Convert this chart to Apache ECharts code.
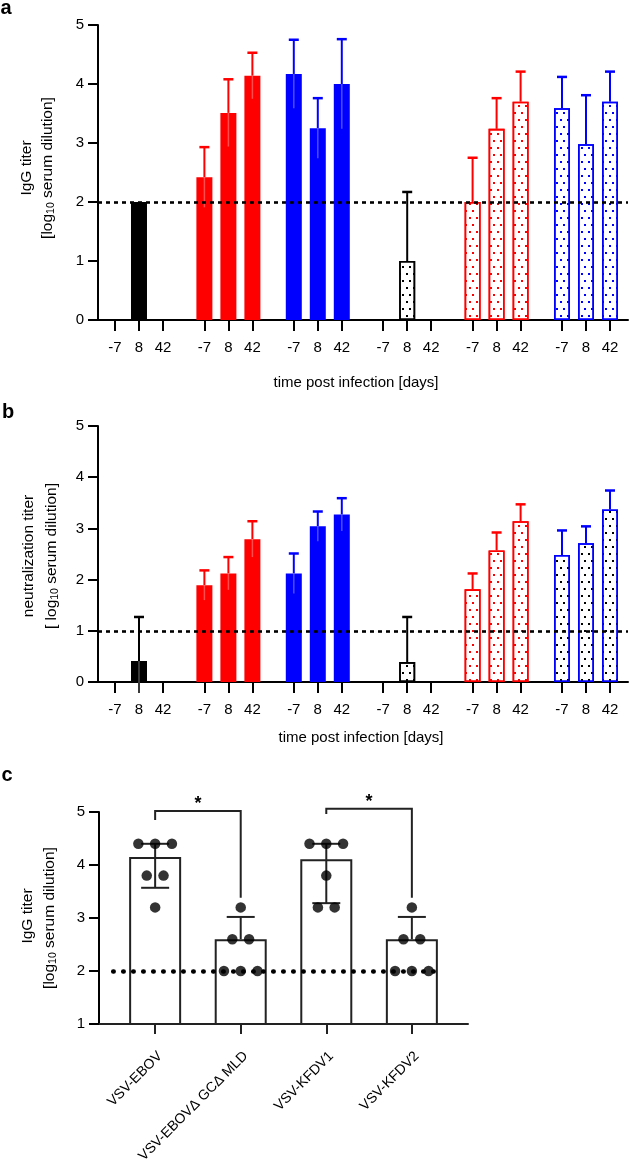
<!DOCTYPE html>
<html>
<head>
<meta charset="utf-8">
<script src="https://cdn.jsdelivr.net/npm/echarts@6/dist/echarts.min.js"></script>
<style>
  html, body { margin: 0; padding: 0; background: #fff; }
  #chart { width: 630px; height: 1163px; }
</style>
</head>
<body>
<div id="chart"></div>
<script>
// ---- data ----
const dayLabels = ['-7', '8', '42'];

// panel a: IgG titer, mean and SD for each group at day -7, 8, 42
const iggMean = [[null, 2.0, null], [2.42, 3.51, 4.14], [4.17, 3.25, 4.0], [null, 1.0, null], [2.0, 3.24, 3.7], [3.59, 2.98, 3.7]];
const iggSD = [[null, 0, null], [0.51, 0.57, 0.39], [0.58, 0.51, 0.76], [null, 1.17, null], [0.75, 0.52, 0.51], [0.53, 0.83, 0.51]];
const iggCutoff = 2;

// panel b: neutralization titer
const neutMean = [[null, 0.41, null], [1.89, 2.12, 2.79], [2.12, 3.04, 3.27], [null, 0.39, null], [1.81, 2.57, 3.14], [2.48, 2.71, 3.37]];
const neutSD = [[null, 0.86, null], [0.29, 0.32, 0.35], [0.39, 0.29, 0.32], [null, 0.88, null], [0.31, 0.35, 0.33], [0.48, 0.33, 0.37]];
const neutCutoff = 1;

// panel c: IgG titer per vaccine
const vaccines = ['VSV-EBOV', 'VSV-EBOV\u0394 GC\u0394 MLD', 'VSV-KFDV1', 'VSV-KFDV2'];
const vaccineMean = [4.15, 2.6, 4.11, 2.6];
const vaccineErrLow = [3.57, null, 3.28, null];
const vaccineErrHigh = [4.4, 3.02, 4.4, 3.02];
const vaccineDots = [
  [4.4, 4.4, 4.4, 3.8, 3.8, 3.2],
  [3.2, 2.6, 2.6, 2.0, 2.0, 2.0],
  [4.4, 4.4, 4.4, 3.8, 3.2, 3.2],
  [3.2, 2.6, 2.6, 2.0, 2.0, 2.0]
];
const vaccineCutoff = 2;
const brackets = [[0, 1], [2, 3]];
const bracketTop = [5.02, 5.06];
const bracketLeftEnd = [4.85, 4.96];
const bracketRightEnd = [3.38, 3.38];

// ---- styles ----
const FONT = '"Liberation Sans", Arial, Helvetica, sans-serif';
const RED = '#ff0000';
const BLUE = '#0000ff';
const groupColor = ['#000', RED, BLUE, '#000', RED, BLUE];
const groupDotted = [false, false, false, true, true, true];
const dotColorA = ['#000', RED, BLUE, '#000', RED, BLUE];
const dotColorB = ['#000', RED, BLUE, '#000', RED, '#000'];

const GROUP_STEP = 3.725;
const xPos = [];
for (let g = 0; g < 6; g++) for (let i = 0; i < 3; i++) xPos.push(g * GROUP_STEP + i);

function dayFormatter(v) {
  const k = xPos.findIndex(p => Math.abs(p - v) < 1e-6);
  return k < 0 ? '' : dayLabels[k % 3];
}

function dotDecal(color) {
  return {
    symbol: 'rect',
    symbolSize: 1,
    dashArrayX: [[1.4, 4.6], [0, 3, 1.4, 1.6]],
    dashArrayY: [1.4, 4.6],
    color: color
  };
}

function yAxis(grid, min) {
  return {
    type: 'value', gridIndex: grid, min: min, max: 5, interval: 1,
    axisLine: { show: true, onZero: false, lineStyle: { color: '#000', width: 2 } },
    axisTick: { show: true, length: 10, lineStyle: { color: '#000', width: 2 } },
    axisLabel: { color: '#000', fontSize: 15, fontFamily: FONT, margin: 14 },
    splitLine: { show: false }
  };
}

function dayAxis(grid) {
  return {
    type: 'value', gridIndex: grid, min: -0.708, max: 21.375,
    axisLine: { show: true, onZero: false, lineStyle: { color: '#000', width: 2 } },
    axisTick: { show: true, customValues: xPos, length: 11, lineStyle: { color: '#000', width: 2 } },
    axisLabel: { customValues: xPos, formatter: dayFormatter, color: '#000', fontSize: 15, fontFamily: FONT, margin: 20 },
    splitLine: { show: false }
  };
}

function errorRender(color, inner) {
  return function (params, api) {
    const x = api.value(0), m = api.value(1), s = api.value(2);
    if (!s) return;
    const base = api.coord([x, m]);
    const top = api.coord([x, m + s]);
    const low = api.coord([x, m - s]);
    const children = [
      { type: 'line', shape: { x1: base[0], y1: base[1], x2: top[0], y2: top[1] }, style: { stroke: color, lineWidth: 2 } },
      { type: 'line', shape: { x1: top[0] - 5, y1: top[1], x2: top[0] + 5, y2: top[1] }, style: { stroke: color, lineWidth: 2.5 } }
    ];
    if (inner) {
      children.push({ type: 'line', shape: { x1: base[0], y1: base[1], x2: low[0], y2: low[1] }, style: { stroke: 'rgba(255,255,255,0.3)', lineWidth: 1.5 } });
    }
    return { type: 'group', children: children };
  };
}

function timePanelSeries(axis, means, sds, dotColors, cutoff) {
  const series = [];
  for (let g = 0; g < 6; g++) {
    const bars = [], errs = [];
    for (let i = 0; i < 3; i++) {
      if (means[g][i] == null) continue;
      const x = g * GROUP_STEP + i;
      bars.push([x, means[g][i]]);
      errs.push([x, means[g][i], sds[g][i]]);
    }
    const itemStyle = groupDotted[g]
      ? { color: '#fff', borderColor: groupColor[g], borderWidth: 1.6, decal: dotDecal(dotColors[g]) }
      : { color: groupColor[g] };
    series.push({
      type: 'bar', xAxisIndex: axis, yAxisIndex: axis, barWidth: 16, barGap: '-100%',
      data: bars, itemStyle: itemStyle, z: 2
    });
    series.push({
      type: 'custom', xAxisIndex: axis, yAxisIndex: axis, data: errs, z: 3,
      renderItem: errorRender(groupColor[g], !groupDotted[g])
    });
  }
  series.push({
    type: 'line', xAxisIndex: axis, yAxisIndex: axis, data: [], z: 5,
    markLine: {
      silent: true, symbol: 'none', label: { show: false },
      lineStyle: { color: '#000', width: 2.6, type: [4, 4] },
      data: [{ yAxis: cutoff }]
    }
  });
  return series;
}

// panel c pieces
const C_MIN = -0.656, C_MAX = 3.656, DOT_STEP = 0.196;
const dotData = [];
vaccineDots.forEach((vals, i) => {
  const rows = {};
  vals.forEach(v => { (rows[v] = rows[v] || []).push(v); });
  Object.keys(rows).forEach(key => {
    const n = rows[key].length;
    rows[key].forEach((v, k) => dotData.push([i + (k - (n - 1) / 2) * DOT_STEP, v]));
  });
});

const seriesC = [
  {
    type: 'bar', xAxisIndex: 2, yAxisIndex: 2, barWidth: 52,
    data: vaccineMean.map((v, i) => [i, v]),
    itemStyle: { color: '#fff', borderColor: '#222', borderWidth: 2 }, z: 2
  },
  {
    type: 'line', xAxisIndex: 2, yAxisIndex: 2, data: [], z: 3,
    markLine: {
      silent: true, symbol: 'none', label: { show: false },
      lineStyle: { color: '#000', width: 4.5, type: [0.5, 9.5], cap: 'round' },
      data: [[{ coord: [-0.49, vaccineCutoff] }, { coord: [3.26, vaccineCutoff] }]]
    }
  },
  {
    type: 'custom', xAxisIndex: 2, yAxisIndex: 2, z: 4,
    data: vaccineMean.map((m, i) => [i, m, vaccineErrLow[i] == null ? NaN : vaccineErrLow[i], vaccineErrHigh[i]]),
    renderItem: function (params, api) {
      const x = api.value(0), m = api.value(1), lo = api.value(2), hi = api.value(3);
      const st = { stroke: '#222', lineWidth: 2 };
      const base = api.coord([x, m]);
      const children = [];
      [lo, hi].forEach(e => {
        if (isNaN(e)) return;
        const p = api.coord([x, e]);
        children.push({ type: 'line', shape: { x1: base[0], y1: base[1], x2: p[0], y2: p[1] }, style: st });
        children.push({ type: 'line', shape: { x1: p[0] - 14, y1: p[1], x2: p[0] + 14, y2: p[1] }, style: st });
      });
      return { type: 'group', children: children };
    }
  },
  {
    type: 'scatter', xAxisIndex: 2, yAxisIndex: 2, z: 5,
    symbol: 'circle', symbolSize: 10.5, itemStyle: { color: '#000' },
    data: dotData
  },
  {
    type: 'custom', xAxisIndex: 2, yAxisIndex: 2, z: 5, clip: false,
    data: brackets.map((b, k) => [b[0], b[1], bracketTop[k], bracketLeftEnd[k], bracketRightEnd[k]]),
    renderItem: function (params, api) {
      const a = api.coord([api.value(0), api.value(3)]);
      const t1 = api.coord([api.value(0), api.value(2)]);
      const t2 = api.coord([api.value(1), api.value(2)]);
      const b = api.coord([api.value(1), api.value(4)]);
      return {
        type: 'group', children: [
          { type: 'polyline', shape: { points: [a, t1, t2, b] }, style: { stroke: '#222', lineWidth: 2, fill: null } },
          { type: 'text', x: (t1[0] + t2[0]) / 2, y: t1[1] - 7,
            style: { text: '*', font: 'bold 18px ' + FONT, fill: '#000', align: 'center', verticalAlign: 'middle' } }
        ]
      };
    }
  }
];

// ---- titles ----
function yTitle(x, y, text) {
  return { type: 'text', x: x, y: y, rotation: Math.PI / 2,
    style: { text: text, font: '15.5px ' + FONT, fill: '#000', align: 'center', verticalAlign: 'middle' } };
}
function yTitleLog(x, y, prefix) {
  return { type: 'text', x: x, y: y, rotation: Math.PI / 2,
    style: {
      text: '{t|' + prefix + 'log}{s|10}{t| serum dilution]}',
      align: 'center', verticalAlign: 'middle',
      rich: {
        t: { fontSize: 15.5, fontFamily: FONT, lineHeight: 18, fill: '#000' },
        s: { fontSize: 10.5, fontFamily: FONT, lineHeight: 10, verticalAlign: 'bottom', fill: '#000' }
      }
    } };
}
function plain(x, y, text, font) {
  return { type: 'text', x: x, y: y,
    style: { text: text, font: font, fill: '#000', align: 'center', verticalAlign: 'middle' } };
}

const option = {
  animation: false,
  backgroundColor: '#fff',
  grid: [
    { left: 98, top: 25, width: 530, height: 295, outerBoundsMode: 'none' },
    { left: 98, top: 426, width: 530, height: 256, outerBoundsMode: 'none' },
    { left: 99, top: 812, width: 369, height: 212, outerBoundsMode: 'none' }
  ],
  xAxis: [
    dayAxis(0),
    dayAxis(1),
    {
      type: 'value', gridIndex: 2, min: C_MIN, max: C_MAX,
      axisLine: { show: true, onZero: false, lineStyle: { color: '#222', width: 2 } },
      axisTick: { show: true, customValues: [0, 1, 2, 3], length: 10, lineStyle: { color: '#222', width: 2 } },
      axisLabel: {
        customValues: [0, 1, 2, 3], rotate: 45, margin: 25,
        align: 'right', verticalAlign: 'top',
        formatter: v => vaccines[Math.round(v)],
        color: '#000', fontSize: 14, fontFamily: FONT
      },
      splitLine: { show: false }
    }
  ],
  yAxis: [yAxis(0, 0), yAxis(1, 0), yAxis(2, 1)],
  series: [].concat(
    timePanelSeries(0, iggMean, iggSD, dotColorA, iggCutoff),
    timePanelSeries(1, neutMean, neutSD, dotColorB, neutCutoff),
    seriesC
  ),
  graphic: [
    plain(6, 8, 'a', 'bold 20px ' + FONT),
    plain(8, 412, 'b', 'bold 20px ' + FONT),
    plain(7, 775, 'c', 'bold 20px ' + FONT),
    yTitle(27, 168, 'IgG titer'),
    yTitleLog(48, 168, '['),
    plain(356, 383, 'time post infection [days]', '15px ' + FONT),
    yTitle(29, 556, 'neutralization titer'),
    yTitleLog(52, 556, '[ '),
    plain(361, 738, 'time post infection [days]', '15px ' + FONT),
    yTitle(28, 916, 'IgG titer'),
    yTitleLog(50, 918, '[')
  ]
};

const chart = echarts.init(document.getElementById('chart'));
chart.setOption(option);
</script>
</body>
</html>
